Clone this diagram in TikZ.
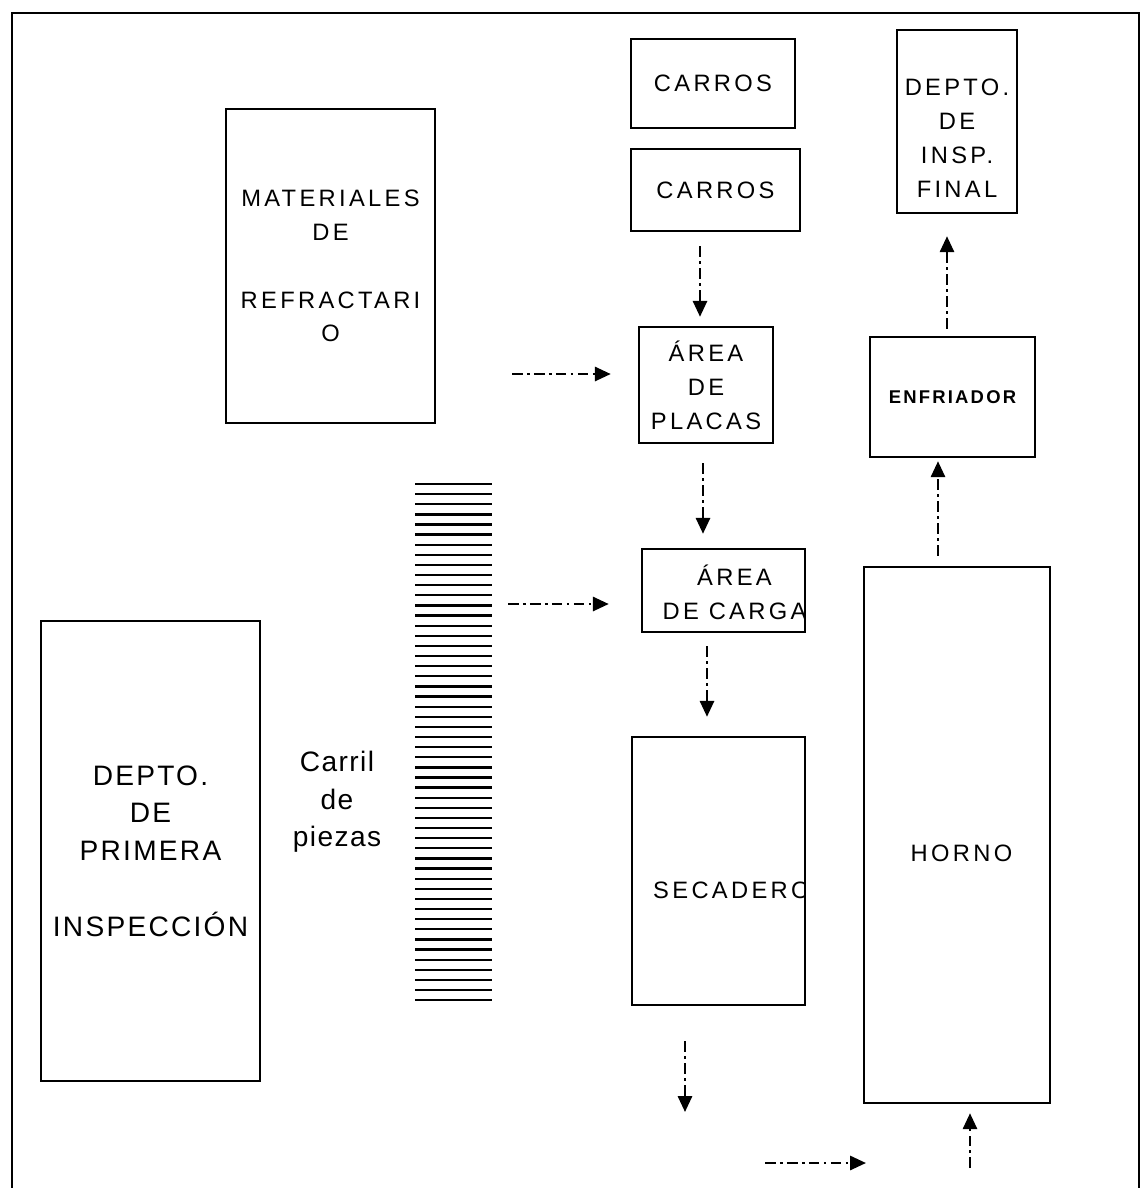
\documentclass[tikz,border=0pt]{standalone}
\usepackage{fontspec}
\setmainfont{Liberation Sans}
\newfontfamily\boxfont[LetterSpace=14]{Liberation Sans}
\newfontfamily\bigfont[LetterSpace=8]{Liberation Sans}
\newfontfamily\railfont[LetterSpace=5]{Liberation Sans}
\newfontfamily\coolfont[LetterSpace=12]{Liberation Sans}
\usetikzlibrary{arrows.meta}
\tikzset{
  box/.style 2 args={draw, line width=1.4pt, minimum width=#1*0.02cm, minimum height=#2*0.02cm,
    inner sep=0pt, align=center, font=\boxfont\fontsize{13.5}{19.3}\selectfont},
  boxtxt/.style={inner sep=0pt, minimum width=0pt, minimum height=0pt, align=center,
    font=\boxfont\fontsize{13.5}{19.3}\selectfont},
  inside/.style n args={3}{path picture={\node[boxtxt] at ([xshift=#1,yshift=#2]path picture bounding box.center) {#3};}},
  flow/.style={line width=1.4pt, dash pattern=on 6pt off 2.5pt on 1.5pt off 2.5pt, -{Triangle[length=9pt,width=8pt]}},
  rail/.style={line width=1.3pt},
  frame/.style={line width=1.5pt},
}
\begin{document}
\begin{tikzpicture}[x=0.02cm, y=-0.02cm]
\useasboundingbox (0,0) rectangle (1142,1188);
% --- frame
\draw[frame] (12,1200) -- (12,13) -- (1139,13) -- (1139,1200);
% --- upper boxes
\node[box={164}{89}] (carrosA) at (713,83.5) {CARROS};
\node[box={169}{82}] (carrosB) at (715.5,190) {CARROS};
\node[box={120}{183}, inside={0pt}{-0.34cm}{DEPTO.\\DE\\INSP.\\FINAL}] (final) at (957,121.5) {};
\node[box={209}{314}] (mater) at (330.5,266) {MATERIALES\\DE\\[19.3pt]REFRACTARI\\O};
\node[box={134}{116}] (placas) at (706,385) {ÁREA\\DE\\PLACAS};
\node[box={165}{120}, font=\coolfont\bfseries\fontsize{10.5}{13}\selectfont] (enfri) at (952.5,397) {ENFRIADOR};
\node[box={163}{83}, inside={0.22cm}{-0.03cm}{ÁREA\\DE CARGA}] (carga) at (723.5,590.5) {};
% --- lower boxes
\node[box={186}{536}, inside={0.09cm}{-0.36cm}{HORNO}] (horno) at (957,835) {};
\node[box={173}{268}, path picture={\node[boxtxt, anchor=west] at ([xshift=0.4cm,yshift=-0.38cm]path picture bounding box.west) {SECADERO};}] (secad) at (718.5,871) {};
\node[box={219}{460}, font=\bigfont\fontsize{16}{21.5}\selectfont] (primera) at (150.5,851) {DEPTO.\\DE\\PRIMERA\\[21.5pt]INSPECCIÓN};
% --- rail
\node[align=center, inner sep=0pt, font=\railfont\fontsize{16}{21.3}\selectfont] (carril) at (337,802) {Carril\\de\\piezas};
\foreach \i in {0,...,51}
  \draw[rail] (415,{484+\i*10.12}) -- (492,{484+\i*10.12});
% --- flow
\draw[flow, shorten <=0.28cm, shorten >=0.18cm] ([xshift=-0.31cm]carrosB.south) -- ([xshift=-0.31cm]carrosB.south |- placas.north);
\coordinate (inPlacas) at (512,374);
\draw[flow, shorten >=0.54cm] (inPlacas) -- (inPlacas -| placas.west);
\draw[flow, shorten <=0.38cm, shorten >=0.28cm] ([xshift=-0.06cm]placas.south) -- ([xshift=-0.06cm]placas.south |- carga.north);
\coordinate (inCarga) at (508,604);
\draw[flow, shorten >=0.64cm] (inCarga) -- (inCarga -| carga.west);
\draw[flow, shorten <=0.26cm, shorten >=0.38cm] ([xshift=-0.33cm]carga.south) -- ([xshift=-0.33cm]carga.south |- secad.north);
\coordinate (outSecad) at (685,1112);
\draw[flow, shorten <=0.7cm] (outSecad |- secad.south) -- (outSecad);
\coordinate (inBottom) at (765,1163);
\coordinate (outBottom) at (866,1163);
\draw[flow] (inBottom) -- (outBottom);
\coordinate (inHorno) at (970,1168);
\draw[flow, shorten >=0.18cm] (inHorno) -- (inHorno |- horno.south);
\draw[flow, shorten <=0.2cm, shorten >=0.06cm] ([xshift=-0.38cm]horno.north) -- ([xshift=-0.38cm]horno.north |- enfri.south);
\draw[flow, shorten <=0.14cm, shorten >=0.44cm] ([xshift=-0.11cm]enfri.north) -- ([xshift=-0.11cm]enfri.north |- final.south);
\end{tikzpicture}
\end{document}
